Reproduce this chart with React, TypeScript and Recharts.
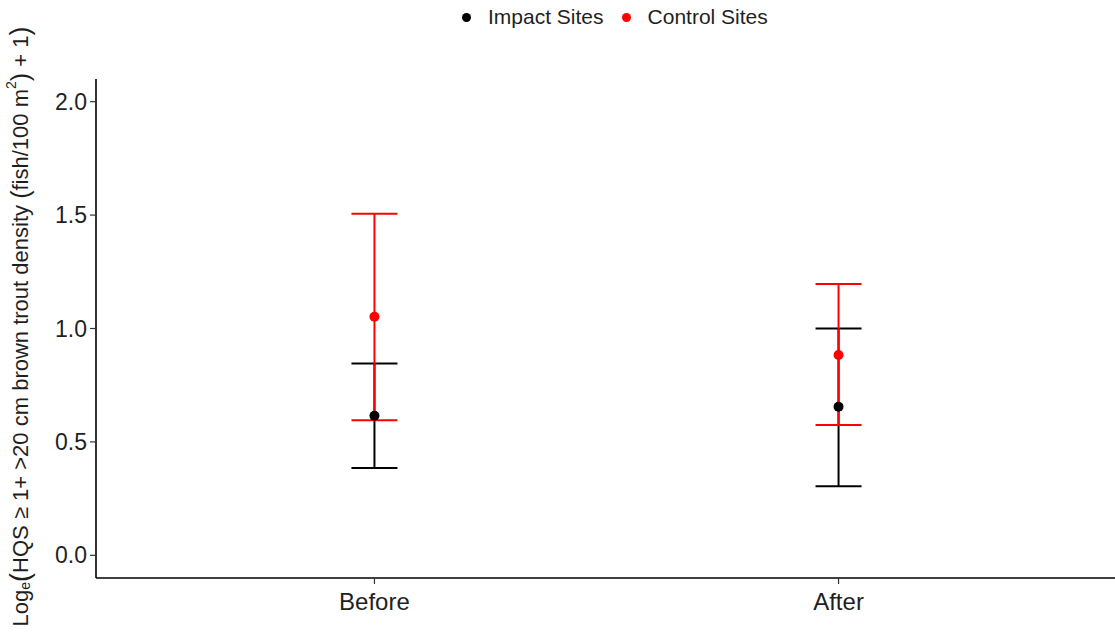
import React from "react";
import {
  ComposedChart,
  Scatter,
  ErrorBar,
  XAxis,
  YAxis,
  Legend,
} from "recharts";

const categories = ["Before", "After"];
const impactMean = [0.615, 0.655];
const impactLow = [0.385, 0.305];
const impactHigh = [0.846, 1.0];
const controlMean = [1.052, 0.883];
const controlLow = [0.596, 0.574];
const controlHigh = [1.506, 1.196];
const yTicks = [0, 0.5, 1.0, 1.5, 2.0];

const impactData = categories.map((c, i) => ({
  x: i + 1,
  name: c,
  y: impactMean[i],
  err: [impactMean[i] - impactLow[i], impactHigh[i] - impactMean[i]],
}));
const controlData = categories.map((c, i) => ({
  x: i + 1,
  name: c,
  y: controlMean[i],
  err: [controlMean[i] - controlLow[i], controlHigh[i] - controlMean[i]],
}));

const FONT = "'Liberation Sans', Arial, sans-serif";
const TEXT = "#1f1f1f";
const RED = "#FF0000";

const dot = (color: string) => (props: any) =>
  <circle cx={props.cx} cy={props.cy} r={5} fill={color} />;

const YLabel = (props: any) => {
  const vb = props.viewBox || {};
  const cy = (vb.y ?? 0) + (vb.height ?? 0) / 2 - 2;
  const x = 20;
  return (
    <text
      x={x}
      y={cy}
      transform={`rotate(-90, ${x}, ${cy})`}
      textAnchor="middle"
      dominantBaseline="central"
      fontFamily={FONT}
      fontSize={22}
      fill={TEXT}
    >
      <tspan>Log</tspan>
      <tspan fontSize={14} dy={5}>e</tspan>
      <tspan dy={-5} fontSize={27}>(</tspan>
      <tspan>HQS ≥ 1+ &gt;20 cm brown trout density </tspan>
      <tspan fontSize={25}>(</tspan>
      <tspan>fish/100 m</tspan>
      <tspan fontSize={14} dy={-9}>2</tspan>
      <tspan dy={9} fontSize={25}>)</tspan>
      <tspan> + 1</tspan>
      <tspan fontSize={27}>)</tspan>
    </text>
  );
};

const LegendContent = () => {
  const item = (color: string, label: string, ml: number) => (
    <div style={{ display: "flex", alignItems: "center", marginLeft: ml }}>
      <div
        style={{
          width: 9,
          height: 9,
          borderRadius: "50%",
          background: color,
          marginRight: 17,
        }}
      />
      <span style={{ fontFamily: FONT, fontSize: 21, color: TEXT }}>{label}</span>
    </div>
  );
  return (
    <div
      style={{
        position: "absolute",
        left: 462,
        top: 5,
        display: "flex",
        alignItems: "center",
        height: 24,
        whiteSpace: "nowrap",
      }}
    >
      {item("#000", "Impact Sites", 0)}
      {item(RED, "Control Sites", 18)}
    </div>
  );
};

export default function App() {
  return (
    <div
      style={{
        position: "absolute",
        left: 0,
        top: 0,
        width: 1115,
        height: 636,
        overflow: "hidden",
        background: "#fff",
      }}
    >
      <ComposedChart
        width={1117}
        height={636}
        margin={{ top: 39, right: 0, bottom: 0, left: 0 }}
      >
        <Legend
          verticalAlign="top"
          content={<LegendContent />}
          wrapperStyle={{ top: 0, left: 0, width: 1115, height: 40 }}
        />
        <XAxis
          type="number"
          dataKey="x"
          domain={[0.4, 2.6]}
          ticks={[1, 2]}
          allowDataOverflow
          tickFormatter={(v: number) => categories[v - 1] ?? ""}
          height={58}
          axisLine={{ stroke: "#000", strokeWidth: 1.6 }}
          tickLine={{ stroke: "#333", strokeWidth: 1.2 }}
          tickSize={6}
          tickMargin={9}
          tick={{ fontFamily: FONT, fontSize: 24, fill: TEXT }}
        />
        <YAxis
          type="number"
          dataKey="y"
          domain={[-0.1, 2.1]}
          ticks={yTicks}
          allowDataOverflow
          width={96}
          tickFormatter={(v: number) => v.toFixed(1)}
          axisLine={{ stroke: "#000", strokeWidth: 1.6 }}
          tickLine={{ stroke: "#333", strokeWidth: 1.2 }}
          tickSize={6}
          tickMargin={3}
          tick={{ fontFamily: FONT, fontSize: 23, fill: TEXT }}
          label={{ content: <YLabel /> }}
        />
        <Scatter
          name="Impact Sites"
          data={impactData}
          dataKey="y"
          fill="#000"
          shape={dot("#000")}
          isAnimationActive={false}
        >
          <ErrorBar
            dataKey="err"
            direction="y"
            width={23}
            stroke="#000"
            strokeWidth={2}
            isAnimationActive={false}
          />
        </Scatter>
        <Scatter
          name="Control Sites"
          data={controlData}
          dataKey="y"
          fill={RED}
          shape={dot(RED)}
          isAnimationActive={false}
        >
          <ErrorBar
            dataKey="err"
            direction="y"
            width={23}
            stroke={RED}
            strokeWidth={2}
            isAnimationActive={false}
          />
        </Scatter>
      </ComposedChart>
    </div>
  );
}
